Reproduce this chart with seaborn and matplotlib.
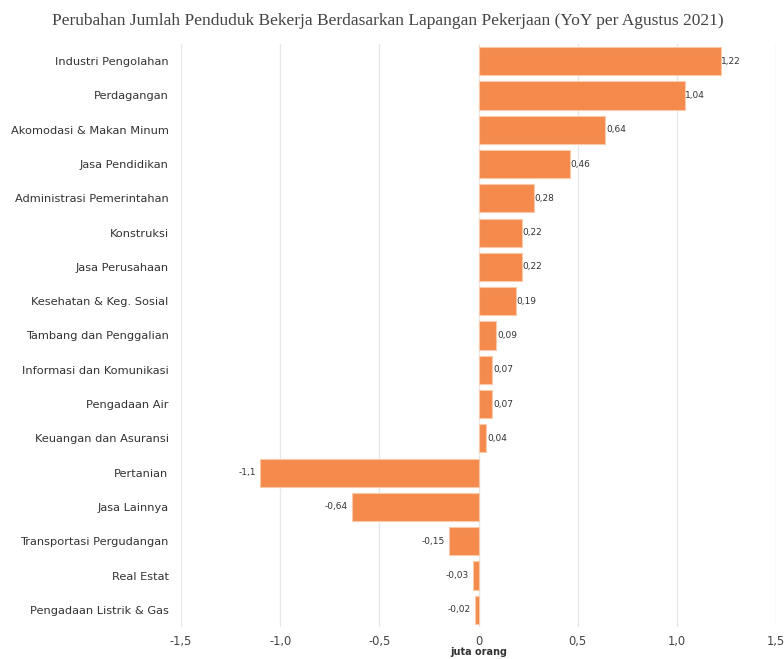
import matplotlib
matplotlib.use("Agg")
import matplotlib.pyplot as plt
import seaborn as sns
import pandas as pd

categories = ["Industri Pengolahan", "Perdagangan", "Akomodasi & Makan Minum",
              "Jasa Pendidikan", "Administrasi Pemerintahan", "Konstruksi",
              "Jasa Perusahaan", "Kesehatan & Keg. Sosial", "Tambang dan Penggalian",
              "Informasi dan Komunikasi", "Pengadaan Air", "Keuangan dan Asuransi",
              "Pertanian", "Jasa Lainnya", "Transportasi Pergudangan", "Real Estat",
              "Pengadaan Listrik & Gas"]
values = [1.22, 1.04, 0.64, 0.46, 0.28, 0.22, 0.22, 0.19, 0.09, 0.07, 0.07, 0.04,
          -1.1, -0.64, -0.15, -0.03, -0.02]
value_labels = ["1,22", "1,04", "0,64", "0,46", "0,28", "0,22", "0,22", "0,19", "0,09",
                "0,07", "0,07", "0,04", "-1,1", "-0,64", "-0,15", "-0,03", "-0,02"]
xticks = [-1.5, -1.0, -0.5, 0, 0.5, 1.0, 1.5]
xtick_labels = ["-1,5", "-1,0", "-0,5", "0", "0,5", "1,0", "1,5"]

df = pd.DataFrame({"kategori": categories, "nilai": values})

sns.set_theme(style="white")
plt.rcParams['font.family'] = ['DejaVu Sans']

fig = plt.figure(figsize=(7.84, 6.59), dpi=100)
ax = fig.add_axes([0.2309, 0.0486, 0.759, 0.8846])

sns.barplot(data=df, x="nilai", y="kategori", orient="h", color="#F48A4C",
            width=0.82, edgecolor="#FBC9A8", linewidth=0.8, ax=ax, saturation=1)

ax.set_xlim(-1.5, 1.5)
ax.set_ylim(16.5, -0.5)
ax.set_xticks(xticks)
ax.set_xticklabels(xtick_labels, fontsize=8.3, color="#444444")
ax.tick_params(axis="y", labelsize=8.2, colors="#333333", length=5, width=0.6, pad=4,
               color="#cccccc")
ax.tick_params(axis="x", length=0, pad=6)
ax.grid(axis="x", color="#e8e8e8", linewidth=1)
ax.set_axisbelow(True)
for s in ax.spines.values():
    s.set_visible(False)
ax.set_ylabel("")
ax.set_xlabel("juta orang", fontsize=7, fontweight="bold", color="#333333")
ax.xaxis.set_label_coords(0.5, -0.052)
ax.xaxis.label.set_va("bottom")

for i, (v, lab) in enumerate(zip(values, value_labels)):
    if v >= 0:
        ax.text(v + 0.003, i, lab, va="center", ha="left", fontsize=6.5, color="#333333")
    else:
        ax.text(v - 0.02, i, lab, va="center", ha="right", fontsize=6.5, color="#333333")

fig.text(0.495, 0.968, "Perubahan Jumlah Penduduk Bekerja Berdasarkan Lapangan Pekerjaan (YoY per Agustus 2021)",
         ha="center", va="center", fontsize=12.5, family="Liberation Serif", color="#444444")

fig.savefig("out.png", dpi=100)
